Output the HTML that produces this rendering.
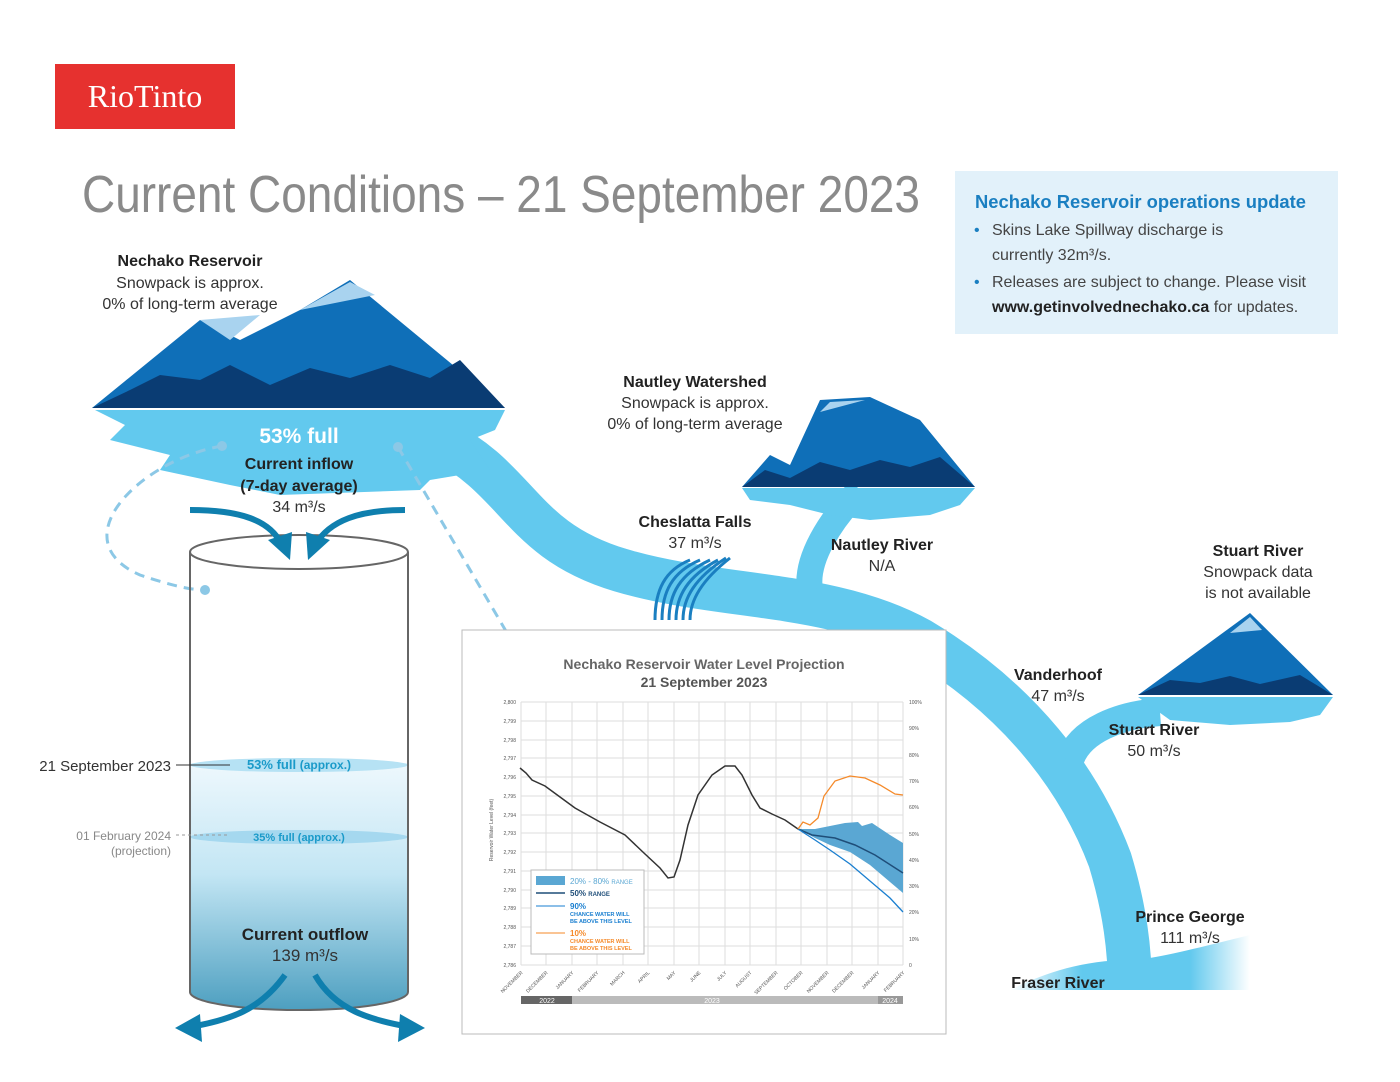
<!DOCTYPE html>
<html><head><meta charset="utf-8"><style>
body{margin:0;background:#fff;}
svg{display:block;font-family:"Liberation Sans",sans-serif;}
.b{font-weight:bold;fill:#222;}
.n{fill:#333;}
</style></head><body>
<svg width="1400" height="1082" viewBox="0 0 1400 1082" xmlns="http://www.w3.org/2000/svg">
<defs>
<linearGradient id="cyl" x1="0" y1="0" x2="0" y2="1">
<stop offset="0" stop-color="#eef8fd"/><stop offset="0.45" stop-color="#c3e6f4"/><stop offset="1" stop-color="#4d9fc0"/>
</linearGradient>
<linearGradient id="fr" x1="0" y1="0" x2="1" y2="0">
<stop offset="0" stop-color="#62c9ee" stop-opacity="0"/><stop offset="0.3" stop-color="#62c9ee"/><stop offset="0.75" stop-color="#62c9ee"/><stop offset="1" stop-color="#62c9ee" stop-opacity="0"/>
</linearGradient>
</defs>
<rect x="55" y="64" width="180" height="65" fill="#e6312f"/>
<text x="145" y="107" text-anchor="middle" font-family="Liberation Serif,serif" font-size="32" fill="#fff">RioTinto</text>
<text x="82" y="212" font-size="52" fill="#8a8a8a" textLength="838" lengthAdjust="spacingAndGlyphs">Current Conditions – 21 September 2023</text>
<rect x="955" y="171" width="383" height="163" fill="#e2f1fa"/>
<text x="975" y="208" font-size="18" font-weight="bold" fill="#1a7fc1" textLength="331" lengthAdjust="spacingAndGlyphs">Nechako Reservoir operations update</text>
<g font-size="16" fill="#444">
<text x="974" y="235" fill="#1a7fc1">•</text><text x="992" y="235">Skins Lake Spillway discharge is</text>
<text x="992" y="260">currently 32m³/s.</text>
<text x="974" y="287" fill="#1a7fc1">•</text><text x="992" y="287">Releases are subject to change. Please visit</text>
<text x="992" y="312"><tspan font-weight="bold" fill="#222">www.getinvolvednechako.ca</tspan> for updates.</text>
</g>
<g fill="none" stroke="#62c9ee" stroke-linecap="butt">
<path d="M440 440 C520 480 520 540 620 570 C720 600 830 590 920 640 C1020 700 1080 780 1110 860 C1125 910 1130 950 1130 990" stroke-width="44"/>
<path d="M810 590 C805 560 830 520 860 490" stroke-width="26"/>
<path d="M1070 760 C1080 730 1120 715 1160 712" stroke-width="28"/>
</g>
<path d="M1010 990 L1250 990 L1250 935 C1190 950 1150 960 1130 960 C1080 960 1040 975 1010 990Z" fill="url(#fr)"/>
<path d="M95 410 L505 410 L495 430 L470 440 L490 470 L430 480 L420 490 L280 495 L230 485 L160 470 L170 455 L110 440 L125 425Z" fill="#62c9ee"/>
<path d="M92 408 L200 320 L240 340 L300 310 L350 280 L505 408Z" fill="#0f6fb8"/>
<path d="M200 320 L230 340 L260 315Z M300 310 L350 282 L375 295Z" fill="#a9d3ef"/>
<path d="M92 408 L130 390 L160 375 L200 380 L230 365 L270 385 L310 368 L350 378 L390 365 L430 378 L460 360 L505 408Z" fill="#0a3c73"/>
<path d="M742 488 L975 488 L960 505 L930 515 L870 520 L830 515 L790 505 L750 500Z" fill="#62c9ee"/>
<path d="M742 487 L770 455 L790 465 L820 400 L870 397 L920 420 L975 487Z" fill="#0f6fb8"/>
<path d="M820 412 L830 402 L865 400Z" fill="#a9d3ef"/>
<path d="M742 487 L765 470 L790 478 L820 462 L850 470 L880 460 L910 467 L940 457 L975 487Z" fill="#0a3c73"/>
<path d="M1138 697 L1333 697 L1320 715 L1290 722 L1230 725 L1170 720Z" fill="#62c9ee"/>
<path d="M1138 695 L1250 613 L1333 695Z" fill="#0f6fb8"/>
<path d="M1230 633 L1250 617 L1262 630Z" fill="#a9d3ef"/>
<path d="M1138 695 L1170 680 L1200 683 L1230 676 L1260 684 L1300 675 L1333 695Z" fill="#0a3c73"/>
<g stroke="#1a7fc1" stroke-width="3" fill="none">
<path d="M655 620 C655 590 665 570 690 560"/><path d="M662 620 C662 592 672 572 700 560"/><path d="M669 620 C669 594 680 574 710 560"/><path d="M676 620 C676 596 688 576 718 560"/><path d="M683 620 C683 598 695 578 726 558"/><path d="M690 620 C690 600 702 580 730 558"/>
</g>
<g stroke="#8cc8e6" stroke-width="3" fill="none" stroke-dasharray="10 7">
<path d="M222 446 C140 460 60 540 140 575 C170 585 190 590 205 590"/>
<path d="M398 447 L520 655"/>
</g>
<g fill="#8cc8e6"><circle cx="222" cy="446" r="5"/><circle cx="205" cy="590" r="5"/><circle cx="398" cy="447" r="5"/><circle cx="520" cy="655" r="5"/></g>
<path d="M190 763 L408 763 L408 992 A109 18 0 0 1 190 992Z" fill="url(#cyl)"/>
<ellipse cx="299" cy="765" rx="109" ry="7" fill="#b6e2f4"/>
<ellipse cx="299" cy="837" rx="109" ry="7" fill="#a5d8ef"/>
<path d="M190 552 L190 992 A109 18 0 0 0 408 992 L408 552" fill="none" stroke="#666" stroke-width="2"/>
<ellipse cx="299" cy="552" rx="109" ry="17" fill="#fff" stroke="#666" stroke-width="2"/>
<text x="299" y="769" text-anchor="middle" font-size="13" font-weight="bold" fill="#1a9ac9">53% full <tspan font-size="12">(approx.)</tspan></text>
<text x="299" y="841" text-anchor="middle" font-size="11" font-weight="bold" fill="#1a9ac9">35% full (approx.)</text>
<line x1="176" y1="765" x2="230" y2="765" stroke="#333"/>
<line x1="176" y1="835" x2="230" y2="835" stroke="#999" stroke-dasharray="3 3"/>
<text x="171" y="771" text-anchor="end" font-size="15" fill="#333">21 September 2023</text>
<text x="171" y="840" text-anchor="end" font-size="12" fill="#888">01 February 2024</text>
<text x="171" y="855" text-anchor="end" font-size="12" fill="#888">(projection)</text>
<g fill="none" stroke="#0f7fae" stroke-width="6">
<path d="M190 510 C240 510 270 520 282 545"/><path d="M405 510 C360 510 330 520 315 545"/>
<path d="M285 975 C260 1010 230 1020 190 1027"/><path d="M315 975 C335 1010 370 1020 410 1027"/>
</g>
<g fill="#0f7fae">
<path d="M268 540 L290 560 L292 532Z"/><path d="M306 532 L308 560 L330 540Z"/>
<path d="M175 1028 L200 1014 L202 1042Z"/><path d="M425 1028 L400 1014 L398 1042Z"/>
</g>
<text x="190" y="266" text-anchor="middle" font-size="16" class="b">Nechako Reservoir</text>
<text x="190" y="288" text-anchor="middle" font-size="16" class="n">Snowpack is approx.</text>
<text x="190" y="309" text-anchor="middle" font-size="16" class="n">0% of long-term average</text>
<text x="299" y="443" text-anchor="middle" font-size="21" font-weight="bold" fill="#fff">53% full</text>
<text x="299" y="469" text-anchor="middle" font-size="16" class="b">Current inflow</text>
<text x="299" y="491" text-anchor="middle" font-size="16" class="b">(7-day average)</text>
<text x="299" y="512" text-anchor="middle" font-size="16" class="n">34 m³/s</text>
<text x="305" y="940" text-anchor="middle" font-size="17" class="b">Current outflow</text>
<text x="305" y="961" text-anchor="middle" font-size="17" class="n">139 m³/s</text>
<text x="695" y="387" text-anchor="middle" font-size="16" class="b">Nautley Watershed</text>
<text x="695" y="408" text-anchor="middle" font-size="16" class="n">Snowpack is approx.</text>
<text x="695" y="429" text-anchor="middle" font-size="16" class="n">0% of long-term average</text>
<text x="695" y="527" text-anchor="middle" font-size="16" class="b">Cheslatta Falls</text>
<text x="695" y="548" text-anchor="middle" font-size="16" class="n">37 m³/s</text>
<text x="882" y="550" text-anchor="middle" font-size="16" class="b">Nautley River</text>
<text x="882" y="571" text-anchor="middle" font-size="16" class="n">N/A</text>
<text x="1258" y="556" text-anchor="middle" font-size="16" class="b">Stuart River</text>
<text x="1258" y="577" text-anchor="middle" font-size="16" class="n">Snowpack data</text>
<text x="1258" y="598" text-anchor="middle" font-size="16" class="n">is not available</text>
<text x="1058" y="680" text-anchor="middle" font-size="16" class="b">Vanderhoof</text>
<text x="1058" y="701" text-anchor="middle" font-size="16" class="n">47 m³/s</text>
<text x="1154" y="735" text-anchor="middle" font-size="16" class="b">Stuart River</text>
<text x="1154" y="756" text-anchor="middle" font-size="16" class="n">50 m³/s</text>
<text x="1190" y="922" text-anchor="middle" font-size="16" class="b">Prince George</text>
<text x="1190" y="943" text-anchor="middle" font-size="16" class="n">111 m³/s</text>
<text x="1058" y="988" text-anchor="middle" font-size="16" class="b">Fraser River</text>
<rect x="462" y="630" width="484" height="404" fill="#fff" stroke="#bbb"/>
<text x="704" y="669" text-anchor="middle" font-size="14" font-weight="bold" fill="#666">Nechako Reservoir Water Level Projection</text>
<text x="704" y="687" text-anchor="middle" font-size="14" font-weight="bold" fill="#555">21 September 2023</text>
<g stroke="#ddd" stroke-width="1">
<line x1="521" y1="702" x2="903" y2="702"/><line x1="521" y1="721" x2="903" y2="721"/><line x1="521" y1="740" x2="903" y2="740"/><line x1="521" y1="758" x2="903" y2="758"/><line x1="521" y1="777" x2="903" y2="777"/><line x1="521" y1="796" x2="903" y2="796"/><line x1="521" y1="815" x2="903" y2="815"/><line x1="521" y1="833" x2="903" y2="833"/><line x1="521" y1="852" x2="903" y2="852"/><line x1="521" y1="871" x2="903" y2="871"/><line x1="521" y1="890" x2="903" y2="890"/><line x1="521" y1="908" x2="903" y2="908"/><line x1="521" y1="927" x2="903" y2="927"/><line x1="521" y1="946" x2="903" y2="946"/><line x1="521" y1="965" x2="903" y2="965"/>
<line x1="521" y1="702" x2="521" y2="965"/><line x1="546" y1="702" x2="546" y2="965"/><line x1="572" y1="702" x2="572" y2="965"/><line x1="597" y1="702" x2="597" y2="965"/><line x1="623" y1="702" x2="623" y2="965"/><line x1="648" y1="702" x2="648" y2="965"/><line x1="674" y1="702" x2="674" y2="965"/><line x1="699" y1="702" x2="699" y2="965"/><line x1="725" y1="702" x2="725" y2="965"/><line x1="750" y1="702" x2="750" y2="965"/><line x1="776" y1="702" x2="776" y2="965"/><line x1="801" y1="702" x2="801" y2="965"/><line x1="827" y1="702" x2="827" y2="965"/><line x1="852" y1="702" x2="852" y2="965"/><line x1="878" y1="702" x2="878" y2="965"/><line x1="903" y1="702" x2="903" y2="965"/>
</g>
<g font-size="5" fill="#555" text-anchor="end">
<text x="516" y="704">2,800</text><text x="516" y="723">2,799</text><text x="516" y="742">2,798</text><text x="516" y="760">2,797</text><text x="516" y="779">2,796</text><text x="516" y="798">2,795</text><text x="516" y="817">2,794</text><text x="516" y="835">2,793</text><text x="516" y="854">2,792</text><text x="516" y="873">2,791</text><text x="516" y="892">2,790</text><text x="516" y="910">2,789</text><text x="516" y="929">2,788</text><text x="516" y="948">2,787</text><text x="516" y="967">2,786</text>
</g>
<g font-size="5" fill="#555">
<text x="909" y="704">100%</text><text x="909" y="730">90%</text><text x="909" y="757">80%</text><text x="909" y="783">70%</text><text x="909" y="809">60%</text><text x="909" y="836">50%</text><text x="909" y="862">40%</text><text x="909" y="888">30%</text><text x="909" y="914">20%</text><text x="909" y="941">10%</text><text x="909" y="967">0</text>
</g>
<text x="493" y="830" font-size="5" fill="#555" transform="rotate(-90 493 830)" text-anchor="middle">Reservoir Water Level (feet)</text>
<g font-size="5" fill="#555" text-anchor="end">
<text transform="translate(523 973) rotate(-45)">NOVEMBER</text><text transform="translate(548 973) rotate(-45)">DECEMBER</text><text transform="translate(574 973) rotate(-45)">JANUARY</text><text transform="translate(599 973) rotate(-45)">FEBRUARY</text><text transform="translate(625 973) rotate(-45)">MARCH</text><text transform="translate(650 973) rotate(-45)">APRIL</text><text transform="translate(676 973) rotate(-45)">MAY</text><text transform="translate(701 973) rotate(-45)">JUNE</text><text transform="translate(727 973) rotate(-45)">JULY</text><text transform="translate(752 973) rotate(-45)">AUGUST</text><text transform="translate(778 973) rotate(-45)">SEPTEMBER</text><text transform="translate(803 973) rotate(-45)">OCTOBER</text><text transform="translate(829 973) rotate(-45)">NOVEMBER</text><text transform="translate(854 973) rotate(-45)">DECEMBER</text><text transform="translate(880 973) rotate(-45)">JANUARY</text><text transform="translate(905 973) rotate(-45)">FEBRUARY</text>
</g>
<rect x="521" y="996" width="51" height="8" fill="#666"/><rect x="572" y="996" width="306" height="8" fill="#bbb"/><rect x="878" y="996" width="25" height="8" fill="#999"/>
<g font-size="7" fill="#fff" text-anchor="middle"><text x="547" y="1003">2022</text><text x="712" y="1003">2023</text><text x="890" y="1003">2024</text></g>
<path d="M798 829 L815 829 L830 826 L845 823 L858 822 L862 826 L872 823 L890 835 L903 843 L903 893 L890 882 L870 865 L850 852 L830 845 L815 838Z" fill="#5aa7d3"/>
<path d="M520 768 L526 773 L532 780 L545 786 L560 797 L575 808 L600 822 L625 835 L645 854 L660 868 L668 878 L674 877 L680 860 L688 825 L698 795 L712 775 L725 766 L735 766 L742 775 L752 795 L760 808 L772 814 L785 820 L798 829" fill="none" stroke="#333" stroke-width="1.5"/>
<path d="M798 829 L812 835 L835 838 L855 845 L875 855 L903 873" fill="none" stroke="#1f4e79" stroke-width="1.5"/>
<path d="M798 829 L815 840 L830 850 L850 864 L870 881 L890 898 L903 912" fill="none" stroke="#1a7fd0" stroke-width="1.3"/>
<path d="M798 829 L803 822 L810 825 L818 818 L824 796 L835 781 L850 776 L865 778 L880 785 L895 794 L903 795" fill="none" stroke="#f58a2a" stroke-width="1.3"/>
<rect x="531" y="870" width="113" height="84" fill="#fff" stroke="#bbb"/>
<rect x="536" y="876" width="29" height="9" fill="#5aa7d3"/>
<text x="570" y="884" font-size="8" fill="#5aa7d3">20% - 80% <tspan font-size="6">RANGE</tspan></text>
<line x1="536" y1="893" x2="565" y2="893" stroke="#1f4e79" stroke-width="1.5"/><text x="570" y="896" font-size="8" font-weight="bold" fill="#1f4e79">50% <tspan font-size="6">RANGE</tspan></text>
<line x1="536" y1="906" x2="565" y2="906" stroke="#1a7fd0"/><text x="570" y="909" font-size="8" font-weight="bold" fill="#1a7fd0">90%</text>
<text x="570" y="916" font-size="5.5" font-weight="bold" fill="#1a7fd0">CHANCE WATER WILL</text><text x="570" y="923" font-size="5.5" font-weight="bold" fill="#1a7fd0">BE ABOVE THIS LEVEL</text>
<line x1="536" y1="933" x2="565" y2="933" stroke="#f58a2a"/><text x="570" y="936" font-size="8" font-weight="bold" fill="#f58a2a">10%</text>
<text x="570" y="943" font-size="5.5" font-weight="bold" fill="#f58a2a">CHANCE WATER WILL</text><text x="570" y="950" font-size="5.5" font-weight="bold" fill="#f58a2a">BE ABOVE THIS LEVEL</text>
</svg>
</body></html>
